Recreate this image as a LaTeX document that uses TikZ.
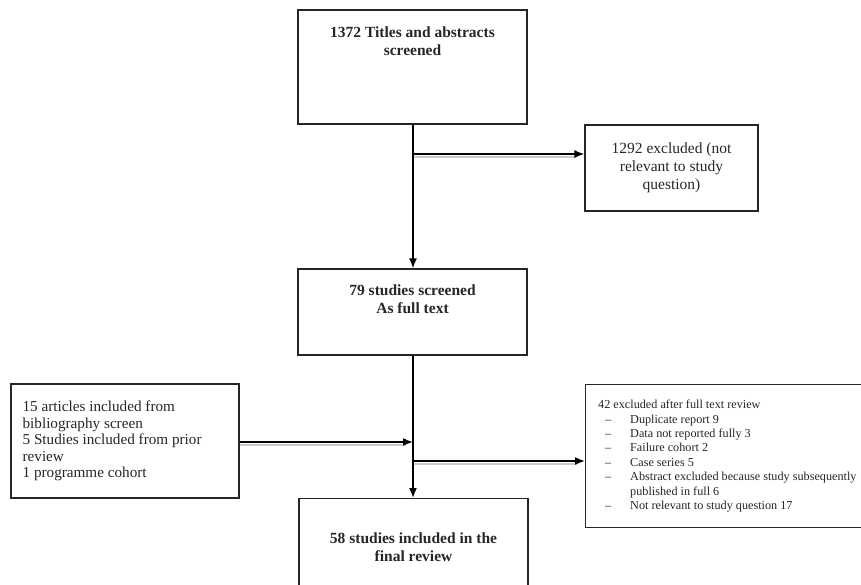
\documentclass[tikz,border=0pt]{standalone}
\usepackage{fontspec}
\setmainfont{Liberation Serif}
\usetikzlibrary{arrows.meta,positioning,calc}
\definecolor{ink}{rgb}{0.15,0.15,0.15}
\tikzstyle{stage} = [rectangle, draw = ink, line width = 1.2pt, inner sep = 0pt]
\tikzstyle{arrow} = [line width = 1.6pt, -{Latex[length=10pt,width=8pt]}]

\begin{document}
\begin{tikzpicture}[
x=1pt, y=-1pt,
headline/.style={font=\fontsize{15.5}{18}\selectfont\bfseries, text=ink, align=center, inner sep=0pt},
plain/.style={font=\fontsize{15.2}{16.5}\selectfont, text=ink, align=left, inner sep=0pt},
small/.style={font=\fontsize{12.2}{14.4}\selectfont, text=ink, align=left, inner sep=0pt},
ledge/.style={draw=black!20, line width=1.8pt, shorten >=8pt}]

\useasboundingbox (0,0) rectangle (861,584);

% boxes
\node[stage, minimum width=229pt, minimum height=114pt] (titles) at (412.5,67) {};
\node[headline, below=17pt of titles.north] (titlestext) {1372 Titles and abstracts\\screened};

\node[stage, minimum width=173pt, minimum height=86pt, font=\fontsize{15.5}{18}\selectfont, text=ink, align=center] (notrel) at (671.5,168) {1292 excluded (not\\relevant to study\\question)};

\node[stage, minimum width=229pt, minimum height=86pt] (screen) at (412.5,312) {};
\node[headline, below=16pt of screen.north] (screentext) {79 studies screened\\As full text};

\node[stage, minimum width=228pt, minimum height=114pt] (extra) at (125,441) {};
\node[plain, right=12pt of extra.west] (extratext) {15 articles included from\\bibliography screen\\5 Studies included from prior\\review\\1 programme cohort};

\node[stage, minimum width=330pt, minimum height=143pt, anchor=north west] (fulltext) at (585,384) {};
\node[small, right=13pt of fulltext.west] (fulltexttext) {42 excluded after full text review\\
\makebox[32pt][l]{\hspace{7pt}--}Duplicate report 9\\
\makebox[32pt][l]{\hspace{7pt}--}Data not reported fully 3\\
\makebox[32pt][l]{\hspace{7pt}--}Failure cohort 2\\
\makebox[32pt][l]{\hspace{7pt}--}Case series 5\\
\makebox[32pt][l]{\hspace{7pt}--}Abstract excluded because study subsequently\\
\hspace*{32pt}published in full 6\\
\makebox[32pt][l]{\hspace{7pt}--}Not relevant to study question 17};

\node[stage, minimum width=229pt, minimum height=114pt, anchor=north] (final) at (413.5,498) {};
\node[headline, below=35pt of final.north] (finaltext) {58 studies included in the\\final review};

% split points on the main line
\coordinate (split1) at (413,154);
\coordinate (join) at (413,442);
\coordinate (split2) at (413,461);

% light edges under the side arrows
\draw[ledge] ([yshift=-3pt]split1) -- ([yshift=-3pt]split1 -| notrel.west);
\draw[ledge] ([yshift=-3pt]extra.east |- join) -- ([yshift=-3pt]join);
\draw[ledge] ([yshift=-3pt]split2) -- ([yshift=-3pt]split2 -| fulltext.west);

\draw[arrow] (split1 |- titles.south) -- (split1 |- screen.north);
\draw[arrow] (split1 |- screen.south) -- (split1 |- final.north);
\draw[arrow] (split1) -- (split1 -| notrel.west);
\draw[arrow] (extra.east |- join) -- (join);
\draw[arrow] (split2) -- (split2 -| fulltext.west);
\end{tikzpicture}
\end{document}
